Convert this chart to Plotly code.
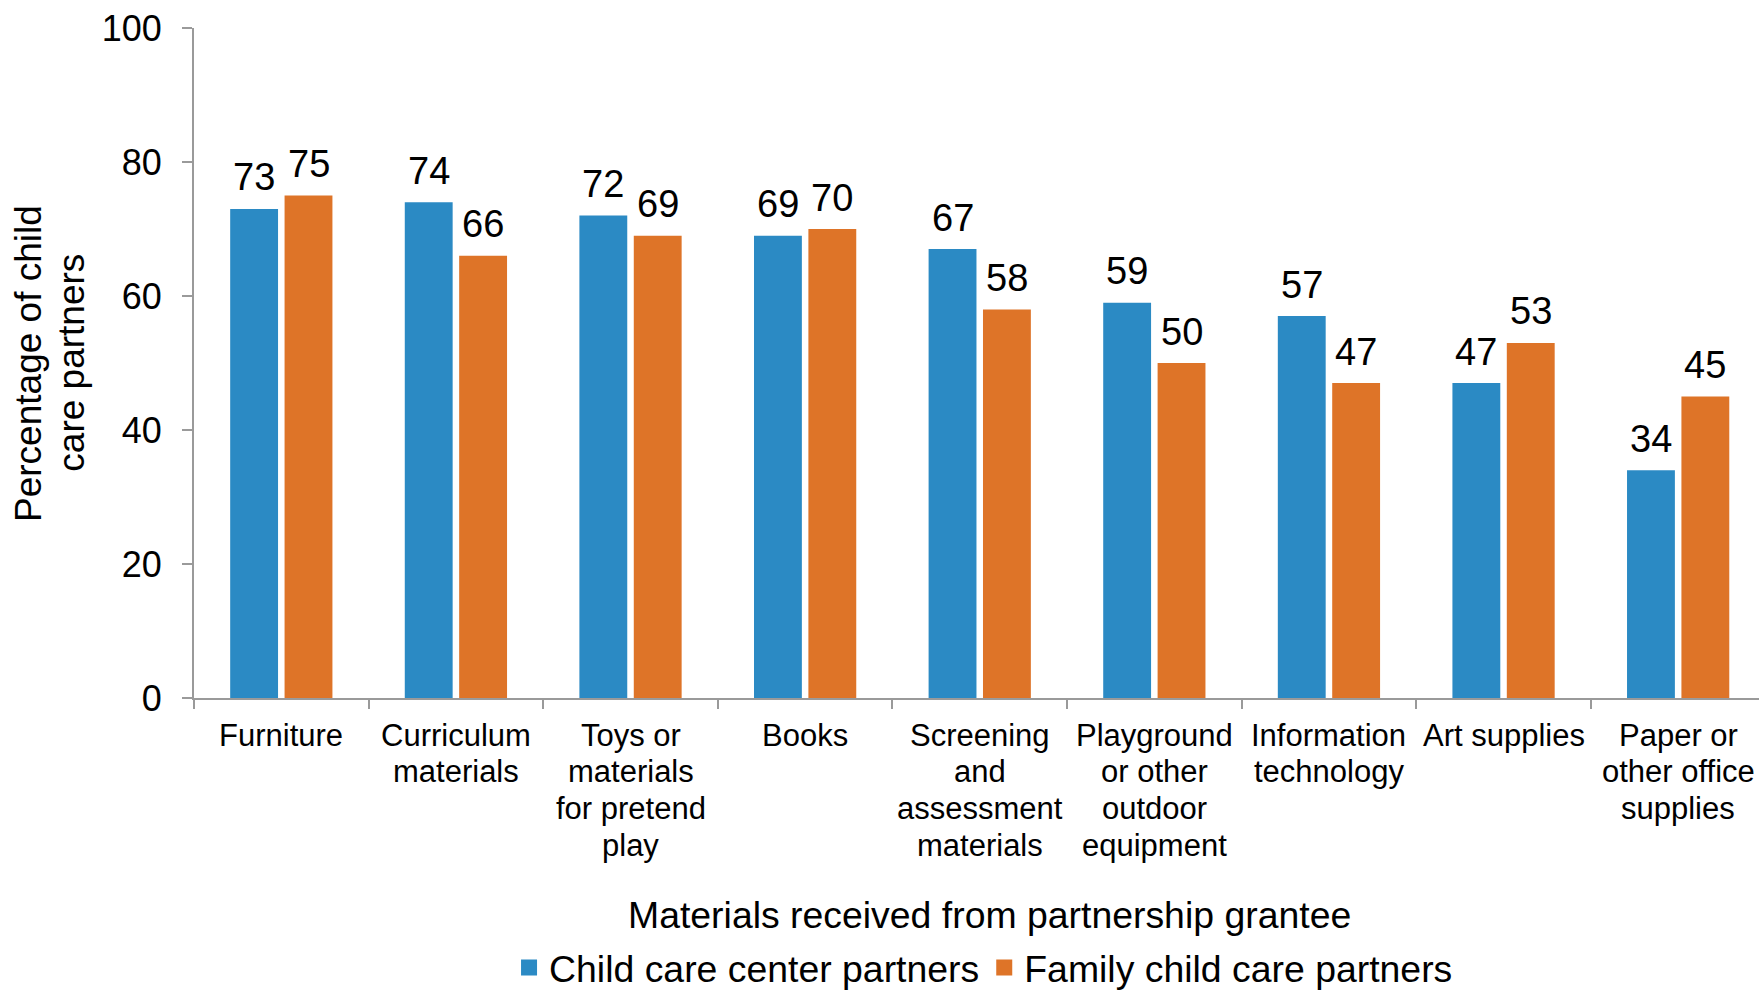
import plotly.graph_objects as go

# Materials received, grouped by type of child care partner
categories = [
    "Furniture",
    "Curriculum<br>materials",
    "Toys or<br>materials<br>for pretend<br>play",
    "Books",
    "Screening<br>and<br>assessment<br>materials",
    "Playground<br>or other<br>outdoor<br>equipment",
    "Information<br>technology",
    "Art supplies",
    "Paper or<br>other office<br>supplies",
]
center_partners = [73, 74, 72, 69, 67, 59, 57, 47, 34]
family_partners = [75, 66, 69, 70, 58, 50, 47, 53, 45]

series_names = ["Child care center partners", "Family child care partners"]
y_ticks = [0, 20, 40, 60, 80, 100]
y_title_lines = ["Percentage of child", "care partners"]
x_title = "Materials received from partnership grantee"

BLUE = "#2B8AC4"
ORANGE = "#DE7428"
AXIS_GREY = "#9A9A9A"
FONT = "Liberation Sans, Arial, sans-serif"

fig = go.Figure()
fig.add_trace(go.Bar(x=categories, y=center_partners, name=series_names[0],
                     showlegend=False,
                     marker=dict(color=BLUE, line=dict(width=0))))
fig.add_trace(go.Bar(x=categories, y=family_partners, name=series_names[1],
                     showlegend=False,
                     marker=dict(color=ORANGE, line=dict(width=0))))

# Legend entries with square swatches
for name, color in zip(series_names, (BLUE, ORANGE)):
    fig.add_trace(go.Scatter(x=[None], y=[None], mode="markers", name=name,
                             marker=dict(symbol="square", size=16, color=color)))

annotations = []

# Value labels above each bar, offset to the bar's slot within its group
SLOT_SHIFT = 27.2
for series, shift in ((center_partners, -SLOT_SHIFT), (family_partners, SLOT_SHIFT)):
    for cat, v in zip(categories, series):
        annotations.append(dict(
            x=cat, y=v, xref="x", yref="y", text=str(v), showarrow=False,
            xanchor="center", yanchor="bottom", xshift=shift, yshift=8.5,
            font=dict(size=38, color="#000000", family=FONT),
        ))

# Category labels, one line at a time for tight line spacing
LINE_STEP = 36.7
FIRST_LINE = 37
for cat in categories:
    for k, line in enumerate(cat.split("<br>")):
        annotations.append(dict(
            x=cat, y=0, xref="x", yref="y", text=line, showarrow=False,
            xanchor="center", yanchor="middle",
            yshift=-(FIRST_LINE + k * LINE_STEP),
            font=dict(size=31, color="#000000", family=FONT),
        ))

# Y-axis title (two rotated lines)
for xpos, line in zip((-0.1061, -0.0788), y_title_lines):
    annotations.append(dict(
        x=xpos, y=0.5, xref="paper", yref="paper", text=line, textangle=-90,
        showarrow=False, xanchor="center", yanchor="middle",
        font=dict(size=37, color="#000000", family=FONT),
    ))

# X-axis title
annotations.append(dict(
    x=0.508, y=-0.324, xref="paper", yref="paper", text=x_title,
    showarrow=False, xanchor="center", yanchor="middle",
    font=dict(size=37.4, color="#000000", family=FONT),
))

fig.update_layout(
    width=1759, height=990,
    margin=dict(l=194, r=0, t=28, b=292, autoexpand=False),
    paper_bgcolor="white", plot_bgcolor="white",
    barmode="group", bargap=0.377, bargroupgap=0.12,
    font=dict(family=FONT, color="#000000"),
    showlegend=True,
    legend=dict(orientation="h", x=0.5045, y=-0.4025,
                xanchor="center", yanchor="middle",
                font=dict(size=37.4, family=FONT, color="#000000"),
                itemwidth=30, tracegroupgap=0, bgcolor="rgba(0,0,0,0)"),
    annotations=annotations,
)

fig.update_xaxes(
    type="category", range=[-0.5, 8.463],
    tickson="boundaries", ticks="outside", ticklen=9, tickwidth=2,
    tickcolor=AXIS_GREY, showline=True, linecolor=AXIS_GREY, linewidth=2,
    showgrid=False, zeroline=False, showticklabels=False,
)
fig.update_yaxes(
    range=[0, 100], tickmode="array", tickvals=y_ticks,
    ticks="outside", ticklen=10, tickwidth=2, tickcolor=AXIS_GREY,
    showline=True, linecolor=AXIS_GREY, linewidth=2,
    showgrid=False, zeroline=False, ticklabelstandoff=13,
    tickfont=dict(size=36, family=FONT, color="#000000"),
)

fig.write_html("out.html")
